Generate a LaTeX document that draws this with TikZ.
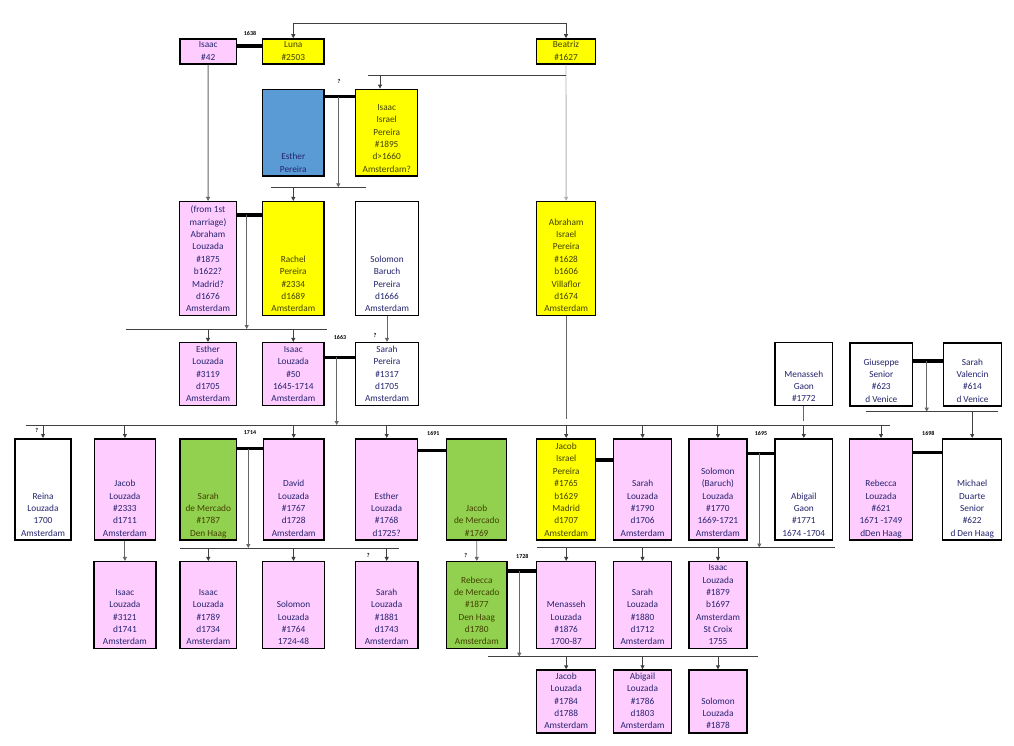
\documentclass[tikz,border=0pt]{standalone}
\usepackage{fontspec}
\setmainfont{Carlito}
\usetikzlibrary{arrows.meta}
\definecolor{kinpink}{RGB}{255,204,255}
\definecolor{kinyellow}{RGB}{255,255,0}
\definecolor{kingreen}{RGB}{146,208,80}
\definecolor{kinblue}{RGB}{91,155,213}
\definecolor{txtnavy}{RGB}{36,36,110}
\definecolor{txtolive}{RGB}{66,66,0}
\tikzset{
  txt/.style={
    anchor=south,
    yshift=0.8pt,
    align=center,
    inner sep=0pt,
    font=\fontsize{9.3}{12.35}\selectfont,
    execute at end node=\strut
  },
  kin/.style={draw=black, line width=1.5pt, inner sep=0pt},
  kin-pink/.style={kin, fill=kinpink, label={[txt,text=txtnavy]south:{#1}}},
  kin-white/.style={kin, fill=white, label={[txt,text=txtnavy]south:{#1}}},
  kin-blue/.style={kin, fill=kinblue, label={[txt,text=txtnavy]south:{#1}}},
  kin-yellow/.style={kin, fill=kinyellow, label={[txt,text=txtolive]south:{#1}}},
  kin-green/.style={kin, fill=kingreen, label={[txt,text=txtolive]south:{#1}}},
  dims/.style 2 args={minimum width=#1, minimum height=#2},
  wed/.style={draw=black, line width=3.5pt},
  bar/.style={draw=black!75, line width=0.9pt},
  link/.style={draw=black!60, line width=0.9pt},
  drop/.style={link, -{Triangle[length=4pt,width=4pt]}},
  kid/.style={bar, -{Triangle[length=4pt,width=4pt]}},
  yr/.style={font=\fontsize{6}{7}\bfseries\selectfont, inner sep=0pt}
}

\begin{document}
\begin{tikzpicture}[x=1pt,y=-1pt]
  \useasboundingbox (0,0) rectangle (1014,746);
  % first generation
  \node[kin-pink={Isaac\\\#42}, dims={56.3}{25}] (isaac42) at (208.2,51.5) {};
  \node[kin-yellow={Luna\\\#2503}, dims={61.3}{25}] (luna) at (293.3,51.5) {};
  \node[kin-yellow={Beatriz\\\#1627}, dims={58.6}{25}] (beatriz) at (566,51.5) {};
  \node[kin-blue={Esther\\Pereira}, dims={61.3}{86.7}] (estherP) at (293.3,132.7) {};
  \node[kin-yellow={Isaac\\Israel\\Pereira\\\#1895\\d>1660\\Amsterdam?}, dims={62}{86.7}] (isaacIP) at (386.7,132.7) {};
  % second generation
  \node[kin-pink={(from 1st\\marriage)\\Abraham\\Louzada\\\#1875\\b1622?\\Madrid?\\d1676\\Amsterdam}, dims={57.4}{114}] (abrahamL) at (208,258.7) {};
  \node[kin-yellow={Rachel\\Pereira\\\#2334\\d1689\\Amsterdam}, dims={61.3}{114}] (rachel) at (293.3,258.7) {};
  \node[kin-white={Solomon\\Baruch\\Pereira\\d1666\\Amsterdam}, dims={62.6}{114}] (solomonBP) at (387,258.7) {};
  \node[kin-yellow={Abraham\\Israel\\Pereira\\\#1628\\b1606\\Villaflor\\d1674\\Amsterdam}, dims={59}{114}] (abrahamIP) at (566.2,258.7) {};
  % third generation
  \node[kin-pink={Esther\\Louzada\\\#3119\\d1705\\Amsterdam}, dims={57.4}{63}] (estherL) at (208,374.2) {};
  \node[kin-pink={Isaac\\Louzada\\\#50\\1645-1714\\Amsterdam}, dims={61.3}{63}] (isaacL) at (293.3,374.2) {};
  \node[kin-white={Sarah\\Pereira\\\#1317\\d1705\\Amsterdam}, dims={62.6}{63}] (sarahP) at (387,374.2) {};
  \node[kin-white={Menasseh\\Gaon\\\#1772}, dims={57.7}{63}] (menassehG) at (803.8,374.2) {};
  \node[kin-white={Giuseppe\\Senior\\\#623\\d Venice}, dims={62.7}{63}] (giuseppe) at (881.3,374.6) {};
  \node[kin-white={Sarah\\Valencin\\\#614\\d Venice}, dims={58.4}{63}] (sarahV) at (972.5,374.6) {};
  % fourth generation
  \node[kin-white={Reina\\Louzada\\1700\\Amsterdam}, dims={56}{101.3}] (reina) at (43,489.4) {};
  \node[kin-pink={Jacob\\Louzada\\\#2333\\d1711\\Amsterdam}, dims={61.2}{101.3}] (jacobL) at (124.9,489.4) {};
  \node[kin-green={Sarah\\de Mercado\\\#1787\\Den Haag}, dims={56.7}{101.3}] (sarahM) at (208.3,489.4) {};
  \node[kin-pink={David\\Louzada\\\#1767\\d1728\\Amsterdam}, dims={60.7}{101.3}] (davidL) at (293.7,489.4) {};
  \node[kin-pink={Esther\\Louzada\\\#1768\\d1725?}, dims={62}{101.3}] (estherL2) at (386.7,489.4) {};
  \node[kin-green={Jacob\\de Mercado\\\#1769}, dims={60}{101.3}] (jacobM) at (476.7,489.4) {};
  \node[kin-yellow={Jacob\\Israel\\Pereira\\\#1765\\b1629\\Madrid\\d1707\\Amsterdam}, dims={59}{101.3}] (jacobIP) at (566.2,489.4) {};
  \node[kin-pink={Sarah\\Louzada\\\#1790\\d1706\\Amsterdam}, dims={57.8}{101.3}] (sarahL) at (642.6,489.4) {};
  \node[kin-pink={Solomon\\(Baruch)\\Louzada\\\#1770\\1669-1721\\Amsterdam}, dims={57.7}{101.3}] (solomonL) at (717.9,489.4) {};
  \node[kin-white={Abigail\\Gaon\\\#1771\\1674 -1704}, dims={57.7}{101.3}] (abigailG) at (803.8,489.4) {};
  \node[kin-pink={Rebecca\\Louzada\\\#621\\1671 -1749\\dDen Haag}, dims={63.4}{101.3}] (rebeccaL) at (881,489.4) {};
  \node[kin-white={Michael\\Duarte\\Senior\\\#622\\d Den Haag}, dims={59}{101.3}] (michaelD) at (972.2,489.4) {};
  % fifth generation
  \node[kin-pink={Isaac\\Louzada\\\#3121\\d1741\\Amsterdam}, dims={61.7}{87}] (isaacL3121) at (124.9,605.2) {};
  \node[kin-pink={Isaac\\Louzada\\\#1789\\d1734\\Amsterdam}, dims={56.7}{87}] (isaacL1789) at (208.3,605.2) {};
  \node[kin-pink={Solomon\\Louzada\\\#1764\\1724-48}, dims={61.6}{87}] (solomonL1764) at (293.5,605.2) {};
  \node[kin-pink={Sarah\\Louzada\\\#1881\\d1743\\Amsterdam}, dims={62.7}{87}] (sarahL1881) at (386.7,605.2) {};
  \node[kin-green={Rebecca\\de Mercado\\\#1877\\Den Haag\\d1780\\Amsterdam}, dims={60.3}{87}] (rebeccaM) at (476.8,605.2) {};
  \node[kin-pink={Menasseh\\Louzada\\\#1876\\1700-87}, dims={59}{87}] (menassehL) at (566.2,605.2) {};
  \node[kin-pink={Sarah\\Louzada\\\#1880\\d1712\\Amsterdam}, dims={58.4}{87}] (sarahL1880) at (642.5,605.2) {};
  \node[kin-pink={Isaac\\Louzada\\\#1879\\b1697\\Amsterdam\\St Croix\\1755}, dims={58}{87}] (isaacL1879) at (718,605.2) {};
  % sixth generation
  \node[kin-pink={Jacob\\Louzada\\\#1784\\d1788\\Amsterdam}, dims={59}{62.7}] (jacobL1784) at (566.2,701.4) {};
  \node[kin-pink={Abigail\\Louzada\\\#1786\\d1803\\Amsterdam}, dims={58.4}{62.7}] (abigailL) at (642.5,701.4) {};
  \node[kin-pink={Solomon\\Louzada\\\#1878}, dims={58}{62.7}] (solomonL1878) at (718,701.4) {};

  % marriages
  \draw[wed] ([yshift=5.5pt]isaac42.east) -- ([yshift=5.5pt]luna.west);
  \draw[wed] ([yshift=36pt]estherP.east) -- ([yshift=36pt]isaacIP.west);
  \draw[wed] ([yshift=43.7pt]abrahamL.east) -- ([yshift=43.7pt]rachel.west);
  \draw[wed] ([yshift=16.9pt]isaacL.east) -- ([yshift=16.9pt]sarahP.west);
  \draw[wed] ([yshift=13.6pt]giuseppe.east) -- ([yshift=13.6pt]sarahV.west);
  \draw[wed] ([yshift=40.7pt]sarahM.east) -- ([yshift=40.7pt]davidL.west);
  \draw[wed] ([yshift=38.7pt]estherL2.east) -- ([yshift=38.7pt]jacobM.west);
  \draw[wed] ([yshift=29.4pt]jacobIP.east) -- ([yshift=29.4pt]sarahL.west);
  \draw[wed] ([yshift=36.1pt]solomonL.east) -- ([yshift=36.1pt]abigailG.west);
  \draw[wed] ([yshift=37.1pt]rebeccaL.east) -- ([yshift=37.1pt]michaelD.west);
  \draw[wed] ([yshift=34.2pt]rebeccaM.east) -- ([yshift=34.2pt]menassehL.west);

  % years and doubts
  \node[yr] (y1638) at (250,33) {1638};
  \node[yr] (y1663) at (340,337.7) {1663};
  \node[yr] (y1714) at (250,433) {1714};
  \node[yr] (y1691) at (433.3,433) {1691};
  \node[yr] (y1695) at (761,433.3) {1695};
  \node[yr] (y1698) at (928.3,433.3) {1698};
  \node[yr] (y1728) at (522.3,556.3) {1728};
  \node[yr] (q1) at (339,81.7) {?};
  \node[yr] (q2) at (375,335.7) {?};
  \node[yr] (q3) at (36.7,430.7) {?};
  \node[yr] (q4) at (368.3,555.7) {?};
  \node[yr] (q5) at (465.7,555.7) {?};

  % sisters Luna and Beatriz
  \draw[bar, {Triangle[length=4pt,width=4pt]}-{Triangle[length=4pt,width=4pt]}]
    (luna.north) -- ++(0,-14.3) -| (beatriz.north);
  \draw[drop] (isaac42) -- (abrahamL);
  \draw[drop, draw=black!30] (beatriz) -- (abrahamIP);
  \coordinate (bbar) at (368,75.7);
  \draw[bar] (bbar) -- (bbar -| beatriz);
  \draw[kid] ([xshift=-6.7pt]isaacIP.north) ++(0,-13.6) -- +(0,13.6);

  % Esther and Isaac Israel
  \coordinate (w1) at (338.3,96.7);
  \coordinate (bar1) at (271,187.3);
  \draw[drop] (w1) -- (w1 |- bar1);
  \draw[bar] (bar1) -- ++(95,0);
  \draw[kid] (bar1 -| rachel) -- (rachel);

  % Abraham and Rachel
  \coordinate (w2) at (246.7,215);
  \coordinate (bar2) at (126,329);
  \draw[drop] (w2) -- (w2 |- bar2);
  \draw[bar] (bar2) -- ++(201,0);
  \draw[kid] (bar2 -| estherL) -- (estherL);
  \draw[kid] (bar2 -| isaacL) -- (isaacL);
  \draw[drop] (solomonBP) -- (sarahP);

  % Isaac and Sarah
  \coordinate (w3) at (336.7,357.3);
  \coordinate (bigbar) at (26,425);
  \draw[drop] (w3) -- (w3 |- bigbar);
  \draw[bar] (bigbar) -- ++(864,0);
  \draw[link] (abrahamIP.south) -- ++(0,103);
  \draw[link] (menassehG.south) -- ++(0,15);
  \foreach \kin in {reina,jacobL,davidL,estherL2,jacobIP,sarahL,solomonL,abigailG,rebeccaL}
    \draw[kid] (bigbar -| \kin) -- (\kin);

  % Giuseppe and Sarah Valencin
  \coordinate (w4) at (926.7,361);
  \coordinate (gbar) at (866,411.7);
  \draw[drop] (w4) -- (w4 |- gbar);
  \draw[bar] (gbar) -- ++(131.7,0);
  \draw[kid] (gbar -| michaelD) -- (michaelD);

  % fourth generation couples
  \coordinate (w5) at (248.3,448.7);
  \coordinate (mbar) at (180,548);
  \draw[drop] (w5) -- (w5 |- mbar);
  \draw[bar] (mbar) -- ++(219,0);
  \foreach \kin in {isaacL1789,solomonL1764,sarahL1881}
    \draw[kid] (mbar -| \kin) -- (\kin);
  \coordinate (w6) at (759.3,453.3);
  \coordinate (sbar) at (536.7,547.5);
  \draw[drop] (w6) -- (w6 |- sbar);
  \draw[bar] (sbar) -- ++(298.3,0);
  \foreach \kin in {menassehL,sarahL1880,isaacL1879}
    \draw[kid] (sbar -| \kin) -- (\kin);
  \draw[drop] (jacobL) -- (isaacL3121);
  \draw[drop] (jacobM) -- (rebeccaM);

  % Rebecca and Menasseh
  \coordinate (w7) at (519.3,571);
  \coordinate (rbar) at (488.3,656.7);
  \draw[drop] (w7) -- (w7 |- rbar);
  \draw[bar] (rbar) -- ++(270,0);
  \foreach \kin in {jacobL1784,abigailL,solomonL1878}
    \draw[kid] (rbar -| \kin) -- (\kin);
\end{tikzpicture}
\end{document}
